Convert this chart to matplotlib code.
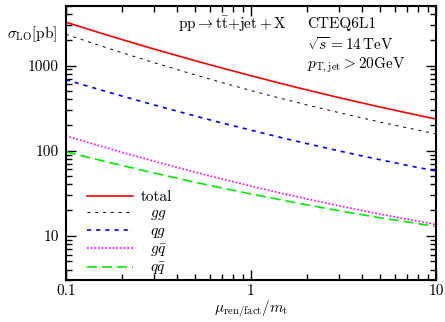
import matplotlib
matplotlib.use("Agg")
import matplotlib.pyplot as plt
from matplotlib.ticker import LogLocator, FixedLocator, FixedFormatter, NullFormatter

plt.rcParams['font.family'] = 'serif'
plt.rcParams['font.serif'] = ['cmr10', 'DejaVu Serif']
plt.rcParams['mathtext.fontset'] = 'cm'
plt.rcParams['axes.formatter.use_mathtext'] = True

# scale mu/m_t and LO cross sections [pb]
mu = [0.1, 0.15, 0.2, 0.3, 0.5, 0.7, 1, 1.5, 2, 3, 5, 7, 10]
total = [3240, 2455, 2030, 1563, 1140, 933, 760, 605, 518, 419, 325, 277, 235]
gg = [2330, 1738, 1422, 1080, 776, 630, 509, 404, 345, 279, 216, 185, 157]
qg = [682, 526, 440, 344, 255, 211, 174, 140, 121, 99, 78, 67, 57.5]
gqbar = [149, 115, 95.8, 75, 55.7, 46.3, 38.3, 31.1, 27.1, 22.4, 17.9, 15.6, 13.5]
qqbar = [97, 78, 67, 54.5, 42.4, 36.3, 30.9, 26.0, 23.1, 19.6, 16.2, 14.5, 12.8]

fig = plt.figure(figsize=(4.45, 3.22), dpi=100)
ax = fig.add_axes([0.148, 0.130, 0.832, 0.851])

ax.plot(mu, total, color='red', lw=1.2, ls='-', label='total')
ax.plot(mu, gg, color='black', lw=0.7, ls=(0, (3, 5)), label=r'  $gg$')
ax.plot(mu, qg, color='blue', lw=1.2, ls=(0, (2.5, 3)), label=r'  $qg$')
ax.plot(mu, gqbar, color='magenta', lw=1.2, ls=(0, (1, 1.2)), label=r'  $g\bar{q}$')
ax.plot(mu, qqbar, color='#00ee00', lw=1.2, ls=(0, (6, 3)), label=r'  $q\bar{q}$')

ax.set_xscale('log')
ax.set_yscale('log')
ax.set_xlim(0.1, 10)
ax.set_ylim(3, 5000)

ax.xaxis.set_major_locator(FixedLocator([0.1, 1, 10]))
ax.xaxis.set_major_formatter(FixedFormatter(['0.1', '1', '10']))
ax.xaxis.set_minor_locator(LogLocator(base=10, subs=range(2, 10)))
ax.xaxis.set_minor_formatter(NullFormatter())
ax.yaxis.set_major_locator(FixedLocator([10, 100, 1000]))
ax.yaxis.set_major_formatter(FixedFormatter(['10', '100', '1000']))
ax.yaxis.set_minor_locator(LogLocator(base=10, subs=range(2, 10)))
ax.yaxis.set_minor_formatter(NullFormatter())

ax.tick_params(which='both', direction='in', top=True, right=True, labelsize=11, width=1)
ax.tick_params(which='major', length=7)
ax.tick_params(which='minor', length=4)
ax.tick_params(axis='x', pad=3)
ax.tick_params(axis='y', pad=5)
for s in ax.spines.values():
    s.set_linewidth(1.5)

ax.text(0.303, 0.934, r'$\mathrm{pp} \rightarrow \mathrm{t}\bar{\mathrm{t}}\mathrm{+jet+X}$',
        transform=ax.transAxes, fontsize=11, va='center')
ax.text(0.651, 0.934, 'CTEQ6L1', transform=ax.transAxes, fontsize=11, va='center')
ax.text(0.651, 0.861, r'$\sqrt{s} = 14\,\mathrm{TeV}$', transform=ax.transAxes, fontsize=11, va='center')
ax.text(0.651, 0.785, r'$p_{\mathrm{T,jet}} > 20\mathrm{GeV}$', transform=ax.transAxes, fontsize=11, va='center')

fig.text(0.015, 0.895, r'$\sigma_{\mathrm{LO}}[\mathrm{pb}]$', fontsize=11, va='center')
fig.text(0.564, 0.005, r'$\mu_{\mathrm{ren/fact}}/m_{\mathrm{t}}$', fontsize=11, ha='center', va='bottom')

ax.legend(loc='lower left', bbox_to_anchor=(0.02, -0.04), frameon=False, fontsize=11,
          handlelength=3.0, handletextpad=0.5, labelspacing=0.15)

fig.savefig('out.png', dpi=100)
